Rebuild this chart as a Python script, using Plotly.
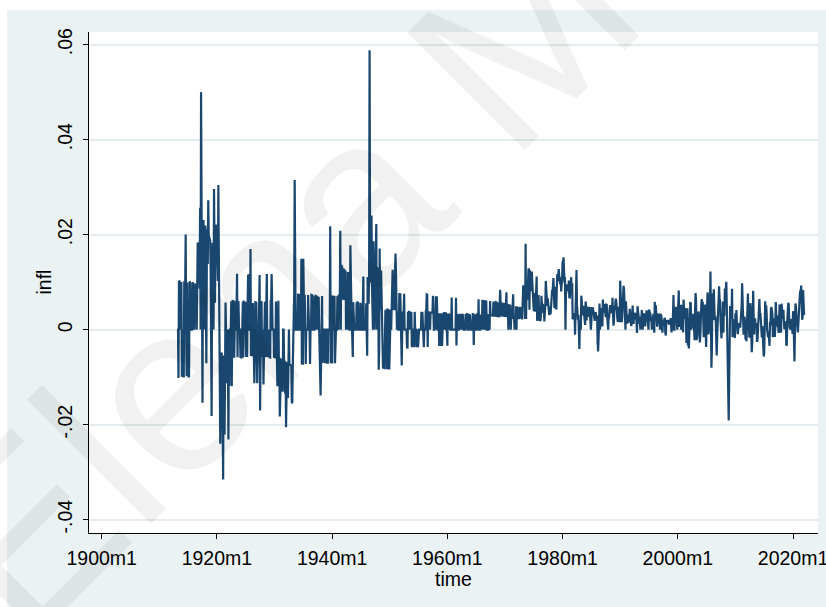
import numpy as np
import pandas as pd
import plotly.graph_objects as go

# Consumer price index (CPI-U, 1982-84=100), monthly, not seasonally adjusted.
# One list per decade; the 1910s start in 1913m1.
cpi_1910s = [
    9.8, 9.8, 9.8, 9.8, 9.7, 9.8, 9.9, 9.9, 10.0, 10.0, 10.1, 10.0,
    10.0, 9.9, 9.9, 9.8, 9.9, 9.9, 10.0, 10.2, 10.2, 10.1, 10.2, 10.1,
    10.1, 10.0, 9.9, 10.0, 10.1, 10.1, 10.1, 10.1, 10.1, 10.2, 10.3, 10.3,
    10.4, 10.4, 10.5, 10.6, 10.7, 10.8, 10.8, 10.9, 11.1, 11.3, 11.5, 11.6,
    11.7, 12.0, 12.0, 12.6, 12.8, 13.0, 12.8, 13.0, 13.3, 13.5, 13.5, 13.7,
    14.0, 14.1, 14.0, 14.2, 14.5, 14.7, 15.1, 15.4, 15.7, 16.0, 16.3, 16.5,
    16.5, 16.2, 16.4, 16.7, 16.9, 16.9, 17.4, 17.7, 17.8, 18.1, 18.5, 18.9,
]
cpi_1920s = [
    19.3, 19.5, 19.7, 20.3, 20.6, 20.9, 20.8, 20.3, 20.0, 19.9, 19.8, 19.4,
    19.0, 18.4, 18.3, 18.1, 17.7, 17.6, 17.7, 17.7, 17.5, 17.5, 17.4, 17.3,
    16.9, 16.9, 16.7, 16.7, 16.7, 16.7, 16.8, 16.6, 16.6, 16.7, 16.8, 16.9,
    16.8, 16.8, 16.8, 16.9, 16.9, 17.0, 17.2, 17.1, 17.2, 17.3, 17.3, 17.3,
    17.3, 17.2, 17.1, 17.0, 17.0, 17.0, 17.1, 17.0, 17.1, 17.2, 17.2, 17.3,
    17.3, 17.2, 17.3, 17.2, 17.3, 17.5, 17.7, 17.7, 17.7, 17.7, 18.0, 17.9,
    17.9, 17.9, 17.8, 17.9, 17.8, 17.7, 17.5, 17.4, 17.5, 17.6, 17.7, 17.7,
    17.5, 17.4, 17.3, 17.3, 17.4, 17.6, 17.3, 17.2, 17.3, 17.4, 17.3, 17.3,
    17.3, 17.1, 17.1, 17.1, 17.2, 17.1, 17.1, 17.1, 17.3, 17.2, 17.2, 17.1,
    17.1, 17.1, 17.0, 16.9, 17.0, 17.1, 17.3, 17.3, 17.3, 17.3, 17.3, 17.2,
]
cpi_1930s = [
    17.1, 17.0, 16.9, 17.0, 16.9, 16.8, 16.6, 16.5, 16.6, 16.5, 16.4, 16.1,
    15.9, 15.7, 15.6, 15.5, 15.3, 15.1, 15.1, 15.1, 15.0, 14.9, 14.7, 14.6,
    14.3, 14.1, 14.0, 13.9, 13.7, 13.6, 13.6, 13.5, 13.4, 13.3, 13.2, 13.1,
    12.9, 12.7, 12.6, 12.6, 12.6, 12.7, 13.1, 13.2, 13.2, 13.2, 13.2, 13.2,
    13.2, 13.3, 13.3, 13.3, 13.3, 13.4, 13.4, 13.4, 13.6, 13.5, 13.5, 13.4,
    13.6, 13.7, 13.7, 13.8, 13.8, 13.7, 13.7, 13.7, 13.7, 13.7, 13.8, 13.8,
    13.8, 13.8, 13.7, 13.7, 13.7, 13.8, 13.9, 14.0, 14.0, 14.0, 14.0, 14.0,
    14.1, 14.1, 14.2, 14.3, 14.4, 14.4, 14.5, 14.5, 14.6, 14.6, 14.5, 14.4,
    14.2, 14.1, 14.1, 14.2, 14.1, 14.1, 14.1, 14.1, 14.1, 14.0, 14.0, 14.0,
    14.0, 13.9, 13.9, 13.8, 13.8, 13.8, 13.8, 13.8, 14.1, 14.0, 14.0, 14.0,
]
cpi_1940s = [
    13.9, 14.0, 14.0, 14.0, 14.0, 14.1, 14.0, 14.0, 14.0, 14.0, 14.0, 14.1,
    14.1, 14.1, 14.2, 14.3, 14.4, 14.7, 14.7, 14.9, 15.1, 15.3, 15.4, 15.5,
    15.7, 15.8, 16.0, 16.1, 16.3, 16.3, 16.4, 16.5, 16.5, 16.7, 16.8, 16.9,
    16.9, 16.9, 17.2, 17.4, 17.5, 17.5, 17.4, 17.3, 17.4, 17.4, 17.4, 17.4,
    17.4, 17.4, 17.4, 17.5, 17.5, 17.6, 17.7, 17.7, 17.7, 17.7, 17.7, 17.8,
    17.8, 17.8, 17.8, 17.8, 17.9, 18.1, 18.1, 18.1, 18.1, 18.1, 18.1, 18.2,
    18.2, 18.1, 18.3, 18.4, 18.5, 18.7, 19.8, 20.2, 20.4, 20.8, 21.3, 21.5,
    21.5, 21.5, 21.9, 21.9, 21.9, 22.0, 22.2, 22.5, 23.0, 23.0, 23.1, 23.4,
    23.7, 23.5, 23.4, 23.8, 23.9, 24.1, 24.4, 24.5, 24.5, 24.4, 24.2, 24.1,
    24.0, 23.8, 23.8, 23.9, 23.8, 23.9, 23.7, 23.8, 23.9, 23.7, 23.8, 23.6,
]
cpi_1950s = [
    23.5, 23.5, 23.6, 23.6, 23.7, 23.8, 24.1, 24.3, 24.4, 24.6, 24.7, 25.0,
    25.4, 25.7, 25.8, 25.8, 25.9, 25.9, 25.9, 25.9, 26.1, 26.2, 26.4, 26.5,
    26.5, 26.3, 26.3, 26.4, 26.4, 26.5, 26.7, 26.7, 26.7, 26.7, 26.7, 26.7,
    26.6, 26.5, 26.6, 26.6, 26.7, 26.8, 26.8, 26.9, 26.9, 27.0, 26.9, 26.9,
    26.9, 26.9, 26.9, 26.8, 26.9, 26.9, 26.9, 26.9, 26.8, 26.8, 26.8, 26.7,
    26.7, 26.7, 26.7, 26.7, 26.7, 26.7, 26.8, 26.8, 26.9, 26.9, 26.9, 26.8,
    26.8, 26.8, 26.8, 26.9, 27.0, 27.2, 27.4, 27.3, 27.4, 27.5, 27.5, 27.6,
    27.6, 27.7, 27.8, 27.9, 28.0, 28.1, 28.3, 28.3, 28.3, 28.3, 28.4, 28.4,
    28.6, 28.6, 28.8, 28.9, 28.9, 28.9, 29.0, 28.9, 28.9, 28.9, 29.0, 28.9,
    29.0, 28.9, 28.9, 29.0, 29.0, 29.1, 29.2, 29.2, 29.3, 29.4, 29.4, 29.4,
]
cpi_1960s = [
    29.3, 29.4, 29.4, 29.5, 29.5, 29.6, 29.6, 29.6, 29.6, 29.8, 29.8, 29.8,
    29.8, 29.8, 29.8, 29.8, 29.8, 29.8, 30.0, 29.9, 30.0, 30.0, 30.0, 30.0,
    30.0, 30.1, 30.1, 30.2, 30.2, 30.2, 30.3, 30.3, 30.4, 30.4, 30.4, 30.4,
    30.4, 30.4, 30.5, 30.5, 30.5, 30.6, 30.7, 30.7, 30.7, 30.8, 30.8, 30.9,
    30.9, 30.9, 30.9, 30.9, 30.9, 31.0, 31.1, 31.0, 31.1, 31.1, 31.2, 31.2,
    31.2, 31.2, 31.3, 31.4, 31.4, 31.6, 31.6, 31.6, 31.6, 31.7, 31.7, 31.8,
    31.8, 32.0, 32.1, 32.3, 32.3, 32.4, 32.5, 32.7, 32.7, 32.9, 32.9, 32.9,
    32.9, 32.9, 33.0, 33.1, 33.1, 33.3, 33.4, 33.5, 33.6, 33.7, 33.8, 33.9,
    34.1, 34.2, 34.3, 34.4, 34.5, 34.7, 34.9, 35.0, 35.1, 35.3, 35.4, 35.5,
    35.6, 35.8, 36.1, 36.3, 36.4, 36.6, 36.8, 37.0, 37.1, 37.3, 37.5, 37.7,
]
cpi_1970s = [
    37.8, 38.0, 38.2, 38.5, 38.6, 38.8, 39.0, 39.0, 39.2, 39.4, 39.6, 39.8,
    39.8, 39.9, 40.0, 40.1, 40.3, 40.6, 40.7, 40.8, 40.8, 40.9, 40.9, 41.1,
    41.1, 41.3, 41.4, 41.5, 41.6, 41.7, 41.9, 42.0, 42.1, 42.3, 42.4, 42.5,
    42.6, 42.9, 43.3, 43.6, 43.9, 44.2, 44.3, 45.1, 45.2, 45.6, 45.9, 46.2,
    46.6, 47.2, 47.8, 48.0, 48.6, 49.0, 49.4, 50.0, 50.6, 51.1, 51.5, 51.9,
    52.1, 52.5, 52.7, 52.9, 53.2, 53.6, 54.2, 54.3, 54.6, 54.9, 55.3, 55.5,
    55.6, 55.8, 55.9, 56.1, 56.5, 56.8, 57.1, 57.4, 57.6, 57.9, 58.0, 58.2,
    58.5, 59.1, 59.5, 60.0, 60.3, 60.7, 61.0, 61.2, 61.4, 61.6, 61.9, 62.1,
    62.5, 62.9, 63.4, 63.9, 64.5, 65.2, 65.7, 66.0, 66.5, 67.1, 67.4, 67.7,
    68.3, 69.1, 69.8, 70.6, 71.5, 72.3, 73.1, 73.8, 74.6, 75.2, 75.9, 76.7,
]
cpi_1980s = [
    77.8, 78.9, 80.1, 81.0, 81.8, 82.7, 82.7, 83.3, 84.0, 84.8, 85.5, 86.3,
    87.0, 87.9, 88.5, 89.1, 89.8, 90.6, 91.6, 92.3, 93.2, 93.4, 93.7, 94.0,
    94.3, 94.6, 94.5, 94.9, 95.8, 97.0, 97.5, 97.7, 97.9, 98.2, 98.0, 97.6,
    97.8, 97.9, 97.9, 98.6, 99.2, 99.5, 99.9, 100.2, 100.7, 101.0, 101.2, 101.3,
    101.9, 102.4, 102.6, 103.1, 103.4, 103.7, 104.1, 104.5, 105.0, 105.3, 105.3, 105.3,
    105.5, 106.0, 106.4, 106.9, 107.3, 107.6, 107.8, 108.0, 108.3, 108.7, 109.0, 109.3,
    109.6, 109.3, 108.8, 108.6, 108.9, 109.5, 109.5, 109.7, 110.2, 110.3, 110.4, 110.5,
    111.2, 111.6, 112.1, 112.7, 113.1, 113.5, 113.8, 114.4, 115.0, 115.3, 115.4, 115.4,
    115.7, 116.0, 116.5, 117.1, 117.5, 118.0, 118.5, 119.0, 119.8, 120.2, 120.3, 120.5,
    121.1, 121.6, 122.3, 123.1, 123.8, 124.1, 124.4, 124.6, 125.0, 125.6, 125.9, 126.1,
]
cpi_1990s = [
    127.4, 128.0, 128.7, 128.9, 129.2, 129.9, 130.4, 131.6, 132.7, 133.5, 133.8, 133.8,
    134.6, 134.8, 135.0, 135.2, 135.6, 136.0, 136.2, 136.6, 137.2, 137.4, 137.8, 137.9,
    138.1, 138.6, 139.3, 139.5, 139.7, 140.2, 140.5, 140.9, 141.3, 141.8, 142.0, 141.9,
    142.6, 143.1, 143.6, 144.0, 144.2, 144.4, 144.4, 144.8, 145.1, 145.7, 145.8, 145.8,
    146.2, 146.7, 147.2, 147.4, 147.5, 148.0, 148.4, 149.0, 149.4, 149.5, 149.7, 149.7,
    150.3, 150.9, 151.4, 151.9, 152.2, 152.5, 152.5, 152.9, 153.2, 153.7, 153.6, 153.5,
    154.4, 154.9, 155.7, 156.3, 156.6, 156.7, 157.0, 157.3, 157.8, 158.3, 158.6, 158.6,
    159.1, 159.6, 160.0, 160.2, 160.1, 160.3, 160.5, 160.8, 161.2, 161.6, 161.5, 161.3,
    161.6, 161.9, 162.2, 162.5, 162.8, 163.0, 163.2, 163.4, 163.6, 164.0, 164.0, 163.9,
    164.3, 164.5, 165.0, 166.2, 166.2, 166.2, 166.7, 167.1, 167.9, 168.2, 168.3, 168.3,
]
cpi_2000s = [
    168.8, 169.8, 171.2, 171.3, 171.5, 172.4, 172.8, 172.8, 173.7, 174.0, 174.1, 174.0,
    175.1, 175.8, 176.2, 176.9, 177.7, 178.0, 177.5, 177.5, 178.3, 177.7, 177.4, 176.7,
    177.1, 177.8, 178.8, 179.8, 179.8, 179.9, 180.1, 180.7, 181.0, 181.3, 181.3, 180.9,
    181.7, 183.1, 184.2, 183.8, 183.5, 183.7, 183.9, 184.6, 185.2, 185.0, 184.5, 184.3,
    185.2, 186.2, 187.4, 188.0, 189.1, 189.7, 189.4, 189.5, 189.9, 190.9, 191.0, 190.3,
    190.7, 191.8, 193.3, 194.6, 194.4, 194.5, 195.4, 196.4, 198.8, 199.2, 197.6, 196.8,
    198.3, 198.7, 199.8, 201.5, 202.5, 202.9, 203.5, 203.9, 202.9, 201.8, 201.5, 201.8,
    202.416, 203.499, 205.352, 206.686, 207.949, 208.352, 208.299, 207.917, 208.490, 208.936, 210.177, 210.036,
    211.080, 211.693, 213.528, 214.823, 216.632, 218.815, 219.964, 219.086, 218.783, 216.573, 212.425, 210.228,
    211.143, 212.193, 212.709, 213.240, 213.856, 215.693, 215.351, 215.834, 215.969, 216.177, 216.330, 215.949,
]
cpi_2010s = [
    216.687, 216.741, 217.631, 218.009, 218.178, 217.965, 218.011, 218.312, 218.439, 218.711, 218.803, 219.179,
    220.223, 221.309, 223.467, 224.906, 225.964, 225.722, 225.922, 226.545, 226.889, 226.421, 226.230, 225.672,
    226.665, 227.663, 229.392, 230.085, 229.815, 229.478, 229.104, 230.379, 231.407, 231.317, 230.221, 229.601,
    230.280, 232.166, 232.773, 232.531, 232.945, 233.504, 233.596, 233.877, 234.149, 233.546, 233.069, 233.049,
    233.916, 234.781, 236.293, 237.072, 237.900, 238.343, 238.250, 237.852, 238.031, 237.433, 236.151, 234.812,
    233.707, 234.722, 236.119, 236.599, 237.805, 238.638, 238.654, 238.316, 237.945, 237.838, 237.336, 236.525,
    236.916, 237.111, 238.132, 239.261, 240.229, 241.018, 240.628, 240.849, 241.428, 241.729, 241.353, 241.432,
    242.839, 243.603, 243.801, 244.524, 244.733, 244.955, 244.786, 245.519, 246.819, 246.663, 246.669, 246.524,
    247.867, 248.991, 249.554, 250.546, 251.588, 251.989, 252.006, 252.146, 252.439, 252.885, 252.038, 251.233,
    251.712, 252.776, 254.202, 255.548, 256.092, 256.143, 256.571, 256.558, 256.759, 257.346, 257.208, 256.974,
]
cpi_2020s = [
    257.971, 258.678, 258.115, 256.389, 256.394, 257.797, 259.101, 259.918, 260.280, 260.388, 260.229, 260.474,
    261.582, 263.014, 264.877, 267.054, 269.195, 271.696, 273.003, 273.567, 274.310, 276.589, 277.948, 278.802,
]

first_month = -564  # 1913m1 as a Stata %tm value (1960m1 = 0)

x_tick_vals = [-720, -480, -240, 0, 240, 480, 720]
x_tick_text = ["1900m1", "1920m1", "1940m1", "1960m1", "1980m1", "2000m1", "2020m1"]
y_tick_vals = [-0.04, -0.02, 0.0, 0.02, 0.04, 0.06]
y_tick_text = ["-.04", "-.02", "0", ".02", ".04", ".06"]

# monthly inflation = percentage change of the price level
cpi = pd.Series(cpi_1910s + cpi_1920s + cpi_1930s + cpi_1940s + cpi_1950s
                + cpi_1960s + cpi_1970s + cpi_1980s + cpi_1990s + cpi_2000s
                + cpi_2010s + cpi_2020s, dtype=float)
infl = cpi.pct_change()
time = np.arange(first_month, first_month + len(cpi))

W, H = 826, 607
L, R, T, B = 89, 818, 32, 533  # plot region in pixels


def px(x):
    return (x - L) / (R - L)


def py(y):
    return (B - y) / (B - T)


FONT = "Liberation Sans, Arial, Helvetica, sans-serif"
NAVY = "#1A476F"
BG = "#EAF2F3"
GRID = "#E4ECEF"
TXT = dict(family=FONT, size=19.5, color="#000000")

fig = go.Figure()
fig.add_trace(go.Scatter(
    x=time[1:], y=infl.values[1:], mode="lines",
    line=dict(color=NAVY, width=2.2),
    hoverinfo="skip", showlegend=False,
))

axis_common = dict(
    showline=True, linecolor="#000000", linewidth=1,
    ticks="outside", ticklen=5, tickwidth=1, tickcolor="#000000",
    tickfont=TXT, zeroline=False, automargin=False,
)

fig.update_xaxes(
    range=[-746.4, 772], tickmode="array",
    tickvals=x_tick_vals, ticktext=x_tick_text, showgrid=False,
    ticklabeloverflow="allow", ticklabelstandoff=3,
    **axis_common,
)
fig.update_yaxes(
    range=[-0.04282, 0.06266], tickmode="array",
    tickvals=y_tick_vals, ticktext=y_tick_text, tickangle=-90,
    showgrid=True, gridcolor=GRID, gridwidth=1.5,
    ticklabelstandoff=3,
    **axis_common,
)

fig.update_layout(
    width=W, height=H,
    margin=dict(l=L, r=W - R, t=T, b=H - B, pad=0),
    paper_bgcolor=BG, plot_bgcolor="#FFFFFF",
    font=TXT,
    shapes=[
        # thin white strips along the top and left border of the page
        dict(type="rect", xref="paper", yref="paper", layer="below",
             x0=px(-2), x1=px(W + 2), y0=py(10), y1=py(-2),
             fillcolor="#FFFFFF", line=dict(width=0)),
        dict(type="rect", xref="paper", yref="paper", layer="below",
             x0=px(-2), x1=px(7), y0=py(H + 2), y1=py(-2),
             fillcolor="#FFFFFF", line=dict(width=0)),
    ],
    annotations=[
        # axis titles
        dict(text="infl", xref="paper", yref="paper",
             x=px(43), y=py(282.5), xanchor="center", yanchor="middle",
             showarrow=False, textangle=-90, font=TXT),
        dict(text="time", xref="paper", yref="paper",
             x=px(453.5), y=py(579), xanchor="center", yanchor="middle",
             showarrow=False, font=TXT),
        # faint diagonal name across the page
        dict(text="Elena M", xref="paper", yref="paper",
             x=px(280), y=py(276), xanchor="center", yanchor="middle",
             showarrow=False, textangle=-45,
             font=dict(family=FONT, size=242, color="rgba(0,0,0,0.055)")),
    ],
)

fig.write_html("out.html")
